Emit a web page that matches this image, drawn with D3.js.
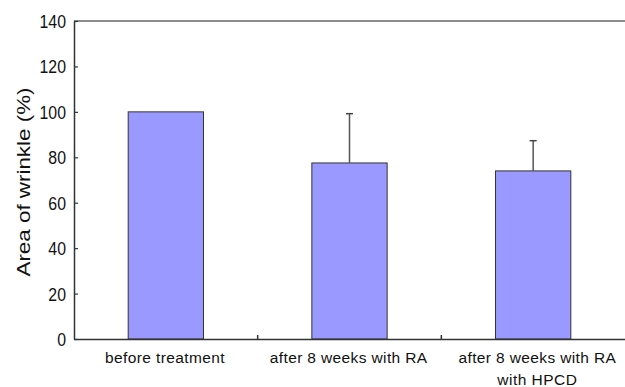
<!DOCTYPE html>
<html><head><meta charset="utf-8">
<script src="https://cdn.jsdelivr.net/npm/d3@7"></script>
<style>body{margin:0;background:#fff;} svg{display:block;}</style>
</head><body>
<script>
const categories = [["before treatment"], ["after 8 weeks with RA"], ["after 8 weeks with RA", "with HPCD"]];
const values = [100, 77.5, 74.0];
const errorTops = [null, 99.2, 87.3];
const yTicks = [0, 20, 40, 60, 80, 100, 120, 140];
const yLabel = "Area of wrinkle (%)";

const W = 625, H = 387;
const m = {left: 74, right: 0, top: 21, bottom: 48};
const svg = d3.select("body").append("svg").attr("width", W).attr("height", H);
const font = "'Liberation Sans', Arial, sans-serif";

const x = d3.scaleBand().domain(d3.range(values.length)).range([m.left, W - m.right]).paddingInner(0.59).paddingOuter(0.295);
const xc = d3.scaleBand().domain(d3.range(values.length)).range([m.left, W - m.right]);
const y = d3.scaleLinear().domain([0, 140]).range([H - m.bottom, m.top]);

svg.append("line").attr("x1", m.left).attr("x2", W).attr("y1", y(140)).attr("y2", y(140))
  .attr("stroke", "#666").attr("stroke-width", 1.5);

svg.selectAll("rect.bar").data(values).join("rect")
  .attr("x", (d, i) => x(i)).attr("width", x.bandwidth())
  .attr("y", d => y(d)).attr("height", d => y(0) - y(d))
  .attr("fill", "#9999FF").attr("stroke", "#333").attr("stroke-width", 1);

const eb = errorTops.map((e, i) => ({e, i})).filter(d => d.e != null);
svg.selectAll("line.err").data(eb).join("line")
  .attr("x1", d => x(d.i) + x.bandwidth() / 2).attr("x2", d => x(d.i) + x.bandwidth() / 2)
  .attr("y1", d => y(values[d.i])).attr("y2", d => y(d.e))
  .attr("stroke", "#555").attr("stroke-width", 1.5);
svg.selectAll("line.cap").data(eb).join("line")
  .attr("x1", d => x(d.i) + x.bandwidth() / 2 - 3.5).attr("x2", d => x(d.i) + x.bandwidth() / 2 + 3.5)
  .attr("y1", d => y(d.e)).attr("y2", d => y(d.e))
  .attr("stroke", "#444").attr("stroke-width", 1.5);

const ya = svg.append("g").attr("transform", `translate(${m.left},0)`)
  .call(d3.axisLeft(y).tickValues(yTicks).tickSizeInner(-4).tickSizeOuter(0).tickPadding(8));
ya.select(".domain").attr("stroke", "#333").attr("stroke-width", 1.5);
ya.selectAll(".tick line").attr("stroke", "#333").attr("stroke-width", 1.2);
ya.selectAll(".tick text").attr("font-family", font).attr("font-size", 18).attr("fill", "#111")
  .attr("dy", "0.36em")
  .each(function() { d3.select(this).attr("textLength", this.getComputedTextLength() * 0.88).attr("lengthAdjust", "spacingAndGlyphs"); });

const xa = svg.append("g").attr("transform", `translate(0,${y(0)})`)
  .call(d3.axisBottom(xc).tickSize(0).tickFormat(""));
xa.select(".domain").attr("stroke", "#333").attr("stroke-width", 1.5);
svg.selectAll("line.xt").data(d3.range(1, values.length)).join("line")
  .attr("x1", i => xc(i)).attr("x2", i => xc(i))
  .attr("y1", y(0)).attr("y2", y(0) - 4).attr("stroke", "#333").attr("stroke-width", 1.5);

const lbl = svg.selectAll("text.xl").data(categories).join("text")
  .attr("x", (d, i) => xc(i) + xc.bandwidth() / 2 + (i === 2 ? 4 : -1))
  .attr("y", y(0) + 24)
  .attr("text-anchor", "middle").attr("font-family", font).attr("font-size", 15.5).attr("fill", "#111");
lbl.selectAll("tspan").data(d => d).join("tspan")
  .attr("x", function() { return this.parentNode.getAttribute("x"); })
  .attr("dy", (d, j) => j === 0 ? 0 : 22).text(d => d)
  .each(function() { d3.select(this).attr("textLength", this.getComputedTextLength() * 1.05).attr("lengthAdjust", "spacing"); });

const yl = svg.append("text").attr("transform", `translate(30,${(y(0) + y(140)) / 2 + 2}) rotate(-90)`)
  .attr("text-anchor", "middle").attr("font-family", font).attr("font-size", 19).attr("fill", "#111")
  .text(yLabel);
yl.attr("textLength", 189).attr("lengthAdjust", "spacingAndGlyphs");
</script>
</body></html>
